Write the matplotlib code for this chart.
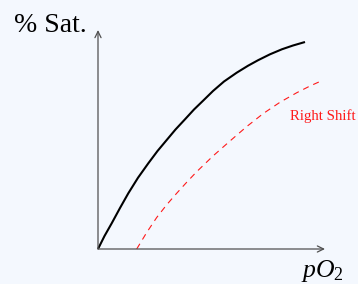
import matplotlib
matplotlib.use("Agg")
import matplotlib.pyplot as plt

# Oxygen dissociation curve (normal)
normal_po2 = [0.0, 0.13, 0.274, 0.44, 0.606, 0.8, 1.006, 1.19, 1.374, 1.55,
              1.74, 1.92, 2.106, 2.3, 2.52, 2.774, 3.0, 3.2, 3.44, 3.68,
              3.9, 4.14]
normal_sat = [0.0, 0.26, 0.514, 0.82, 1.114, 1.425, 1.714, 1.96, 2.18, 2.39,
              2.594, 2.79, 2.97, 3.16, 3.35, 3.526, 3.665, 3.775, 3.894, 3.995,
              4.07, 4.14]

# Right-shifted curve
shift_po2 = [0.774, 0.974, 1.174, 1.374, 1.574, 1.774, 1.974, 2.3, 2.64,
             2.97, 3.306, 3.64, 3.974, 4.24, 4.506]
shift_sat = [0.0, 0.33, 0.63, 0.885, 1.115, 1.335, 1.546, 1.86, 2.16,
             2.445, 2.71, 2.935, 3.125, 3.26, 3.38]

x_axis_end = 4.54
y_axis_end = 4.38

y_label = "% Sat."
x_label = r"$pO_2$"
shift_label = "Right Shift"

plt.rcParams['mathtext.fontset'] = 'custom'
plt.rcParams['mathtext.it'] = 'Liberation Serif:italic'
plt.rcParams['mathtext.rm'] = 'Liberation Serif'

bg = '#f4f8fe'
fig = plt.figure(figsize=(3.58, 2.84), dpi=100, facecolor=bg)
ax = fig.add_axes([0, 0, 1, 1])
ax.set_facecolor(bg)
ax.set_xlim(-1.96, 5.2)
ax.set_ylim(-0.7, 4.98)
ax.axis('off')

axis_color = '#505050'
for end in [(x_axis_end, 0), (0, y_axis_end)]:
    ax.annotate('', xy=end, xytext=(0, 0),
                arrowprops=dict(arrowstyle='->,head_length=0.45,head_width=0.22',
                                color=axis_color, lw=0.9, shrinkA=0, shrinkB=0))

ax.plot(normal_po2, normal_sat, color='black', lw=1.5,
        solid_capstyle='butt', solid_joinstyle='round')
ax.plot(shift_po2, shift_sat, color='#ff1a1a', lw=0.8, dashes=(5.5, 4.5))

ax.text(-0.226, 4.346, y_label, ha='right', va='baseline',
        family='Liberation Serif', fontsize=20, color='black')
ax.text(4.06, -0.56, x_label, ha='left', va='baseline',
        fontsize=18.5, color='black')
ax.text(3.84, 2.58, shift_label, ha='left', va='baseline',
        family='Liberation Serif', fontsize=10.6, color='#ff1a1a')

fig.savefig('out.png', dpi=100, facecolor=bg)
